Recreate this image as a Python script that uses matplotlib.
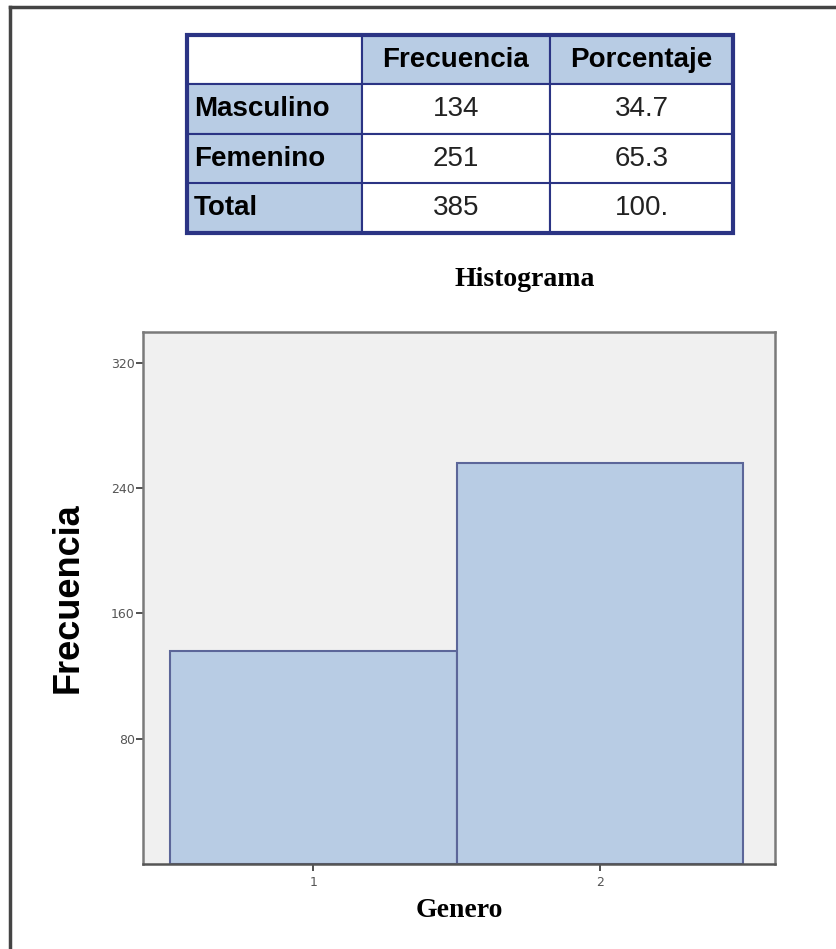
import matplotlib.pyplot as plt
from matplotlib.lines import Line2D
from matplotlib.patches import Rectangle

# --------------------------------------------------
# Datos
# --------------------------------------------------
categorias = ["Masculino", "Femenino", "Total"]
frecuencia = [134, 251, 385]
porcentaje = ["34.7", "65.3", "100."]
columnas = ["", "Frecuencia", "Porcentaje"]

# histograma (alturas)
genero_codigo = [1, 2]
genero_conteo = [136, 256]
y_ticks = [80, 160, 240, 320]

azul = "#b8cce4"
borde_tabla = "#2b3484"

fig = plt.figure(figsize=(8.37, 9.49), dpi=100)
fig.patch.set_facecolor("white")

# marco exterior (solo arriba e izquierda)
fig.add_artist(Line2D([10 / 837, 10 / 837], [0, 1 - 7 / 949], color="#444444", lw=2.5))
fig.add_artist(Line2D([10 / 837, 1], [1 - 7 / 949, 1 - 7 / 949], color="#444444", lw=2.5))

# --------------------------------------------------
# Tabla
# --------------------------------------------------
tax = fig.add_axes([187 / 837, 1 - 233 / 949, 546 / 837, 198 / 949])
tax.axis("off")

cell_text = [columnas] + [[c, str(f), p] for c, f, p in zip(categorias, frecuencia, porcentaje)]
tabla = tax.table(cellText=cell_text, bbox=[0, 0, 1, 1],
                  colWidths=[175 / 546, 188 / 546, 183 / 546])
tabla.auto_set_font_size(False)
for (r, c), cell in tabla.get_celld().items():
    cell.set_edgecolor(borde_tabla)
    cell.set_linewidth(1.5)
    txt = cell.get_text()
    txt.set_fontfamily("Liberation Sans")
    txt.set_fontsize(20)
    if r == 0 and c == 0:
        cell.set_facecolor("white")
    elif r == 0 or c == 0:
        cell.set_facecolor(azul)
        txt.set_fontweight("bold")
    else:
        cell.set_facecolor("white")
        txt.set_color("#222222")
    if c == 0:
        cell.set_text_props(ha="left")
        cell.PAD = 0.04
    else:
        cell.set_text_props(ha="center")

tax.add_patch(Rectangle((0, 0), 1, 1, transform=tax.transAxes, fill=False,
                        edgecolor=borde_tabla, lw=3, zorder=10, clip_on=False))

# --------------------------------------------------
# Histograma
# --------------------------------------------------
ax = fig.add_axes([143 / 837, 1 - 864 / 949, 632 / 837, 532 / 949])
ax.set_facecolor("#f0f0f0")

ax.bar(genero_codigo, genero_conteo, width=1.0, color=azul,
       edgecolor="#5c6699", linewidth=1.5)

ax.set_xlim(0.405, 2.611)
ax.set_ylim(0, 339.5)
ax.set_xticks(genero_codigo)
ax.set_xticklabels([str(g) for g in genero_codigo])
ax.set_yticks(y_ticks)
ax.set_yticklabels([str(t) for t in y_ticks])
ax.tick_params(axis="both", direction="out", length=5, width=1.2,
               color="#333333", labelsize=9, labelcolor="#555555", pad=1)
ax.tick_params(axis="x", pad=4)

for s in ax.spines.values():
    s.set_color("#7a7a7a")
    s.set_linewidth(1.8)
ax.spines["bottom"].set_color("#555555")

fig.text(525 / 837, 1 - 279 / 949, "Histograma", fontfamily="Liberation Serif",
         fontweight="bold", fontsize=20, ha="center", va="center")
ax.set_xlabel("Genero", fontfamily="Liberation Serif", fontweight="bold",
              fontsize=20, labelpad=6)
ax.set_ylabel("Frecuencia", fontfamily="Liberation Sans", fontweight="bold",
              fontsize=26, labelpad=18)

plt.savefig("out.png", dpi=100)
